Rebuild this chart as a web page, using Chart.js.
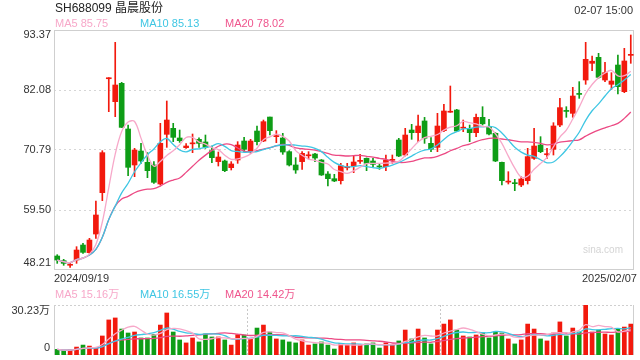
<!DOCTYPE html>
<html><head><meta charset="utf-8">
<script src="https://cdn.jsdelivr.net/npm/chart.js@4.4.1/dist/chart.umd.min.js"></script>
<style>
html,body{margin:0;padding:0;background:#fff;width:640px;height:360px;overflow:hidden;font-family:"Liberation Sans",Arial,"Noto Sans CJK SC",sans-serif;}
.t{position:absolute;white-space:nowrap;font-size:11px;line-height:11px;color:#333;}
#c1{position:absolute;left:0;top:0;}
#c2{position:absolute;left:0;top:290px;}
</style></head>
<body>
<canvas id="c1" width="640" height="290"></canvas>
<canvas id="c2" width="640" height="70"></canvas>
<div class="t" style="left:55px;top:2px;font-size:12px;line-height:12px;color:#222;">SH688099 晶晨股份</div>
<div class="t" style="right:7px;top:5px;">02-07 15:00</div>
<div class="t" id="m5" style="left:55px;top:18px;color:#f7a8c9;"></div>
<div class="t" id="m10" style="left:140px;top:18px;color:#3ec6e3;"></div>
<div class="t" id="m20" style="left:225px;top:18px;color:#ef558d;"></div>
<div class="t" style="left:583px;top:245px;font-size:10px;line-height:10px;color:#d4d4d4;">sina.com</div>
<div class="t" style="left:54px;top:273px;">2024/09/19</div>
<div class="t" style="right:3px;top:273px;">2025/02/07</div>
<div class="t" id="v5" style="left:55px;top:289px;color:#f7a8c9;"></div>
<div class="t" id="v10" style="left:140px;top:289px;color:#3ec6e3;"></div>
<div class="t" id="v20" style="left:225px;top:289px;color:#ef558d;"></div>
<script>
const dates = [
"09-19","09-20","09-23","09-24","09-25","09-26","09-27","09-30",
"10-08","10-09","10-10","10-11","10-14","10-15","10-16","10-17","10-18","10-21","10-22","10-23","10-24","10-25","10-28","10-29","10-30","10-31",
"11-01","11-04","11-05","11-06","11-07","11-08","11-11","11-12","11-13","11-14","11-15","11-18","11-19","11-20","11-21","11-22","11-25","11-26","11-27","11-28","11-29",
"12-02","12-03","12-04","12-05","12-06","12-09","12-10","12-11","12-12","12-13","12-16","12-17","12-18","12-19","12-20","12-23","12-24","12-25","12-26","12-27","12-30","12-31",
"01-02","01-03","01-06","01-07","01-08","01-09","01-10","01-13","01-14","01-15","01-16","01-17","01-20","01-21","01-22","01-23","01-24","01-27",
"02-05","02-06","02-07"];
const opens = [50.84,49.97,49.10,50.09,52.91,51.47,54.98,62.76,84.20,79.88,
83.33,74.74,67.97,70.60,68.47,67.97,64.39,73.74,74.87,73.05,
71.23,71.95,72.80,72.30,70.66,68.60,68.72,67.47,68.91,72.48,
70.48,74.36,72.48,76.99,73.30,73.05,70.48,67.97,68.60,69.70,
70.03,68.91,66.27,65.39,65.02,67.45,67.78,68.65,69.22,68.72,
67.70,67.65,68.85,72.67,69.85,74.55,74.05,76.25,72.04,71.29,
74.43,77.90,78.32,74.90,74.87,74.05,76.94,75.18,73.93,68.47,
64.75,64.60,64.20,65.02,69.22,71.73,69.90,70.92,75.49,78.20,
77.69,81.40,83.96,87.10,88.23,83.96,83.15,86.78,81.77,88.60];
const closes = [50.09,49.46,49.20,51.97,51.53,53.85,58.56,70.29,84.35,83.02,
75.05,67.53,70.79,68.72,66.90,64.71,72.04,76.43,73.17,72.55,
71.54,72.10,72.04,71.29,69.35,69.47,66.90,68.16,71.73,70.92,
72.48,72.36,76.12,74.43,73.50,70.41,67.97,67.03,70.16,69.85,
69.28,66.09,65.39,64.96,67.84,67.60,68.53,68.80,68.28,68.09,
67.60,68.91,68.95,69.66,73.61,74.05,75.30,72.99,70.92,75.30,
78.13,78.05,74.36,75.05,74.05,76.93,75.72,73.80,68.72,65.02,
64.90,64.45,65.33,69.54,71.54,70.48,70.05,75.31,78.76,78.05,
80.95,81.25,87.85,87.50,84.46,85.34,83.77,82.71,87.54,88.75];
const highs = [51.09,50.22,49.46,52.60,53.23,54.17,61.19,70.66,84.40,91.05,
83.52,75.49,71.10,72.04,70.29,68.60,75.81,80.01,75.81,74.55,
72.00,73.80,73.10,73.61,71.54,70.41,68.90,68.60,72.36,73.17,
72.80,75.30,76.43,77.00,74.43,73.93,70.66,69.35,70.48,70.48,
70.16,69.00,66.71,66.21,68.28,68.28,69.66,69.97,69.30,69.22,
68.28,69.85,69.85,72.99,74.87,75.62,77.38,76.93,73.11,77.69,
79.38,82.83,78.44,76.43,75.49,77.56,78.94,76.56,74.05,68.50,
66.71,65.27,65.77,71.10,74.87,73.30,71.10,75.93,80.51,78.94,
82.58,83.65,91.05,88.48,88.98,87.29,85.34,88.67,89.92,92.43];
const lows = [49.46,49.09,48.71,49.46,51.35,51.35,54.17,61.26,78.00,77.06,
75.00,65.96,65.77,68.28,65.58,64.52,64.20,71.29,72.36,72.23,
71.10,70.29,71.29,71.10,68.41,67.78,66.71,67.03,68.28,70.48,
70.16,71.73,72.36,73.61,72.17,69.97,67.78,66.40,67.15,69.10,
68.60,66.00,64.02,64.83,64.39,67.03,66.52,68.28,66.90,67.65,
67.15,66.90,68.28,69.54,69.66,72.80,72.36,72.04,70.48,70.48,
74.24,77.88,74.24,74.24,72.36,73.30,75.49,73.61,68.60,64.20,
64.39,63.14,63.89,64.39,69.03,70.29,69.22,69.85,75.18,76.94,
76.94,80.51,83.15,85.72,84.28,83.65,82.21,81.33,81.58,87.10];
// volume in 万手
const volumes = [3.4,2.6,3.0,4.8,6.0,5.4,4.0,11.5,21.2,22.4,
15.7,13.3,13.9,10.3,10.3,12.5,18.1,25.4,13.9,9.1,
7.3,10.3,7.9,12.7,10.9,10.9,9.1,6.0,12.3,12.1,
9.7,16.3,18.1,13.9,9.7,9.1,7.9,7.3,9.1,6.0,
6.7,7.9,6.0,3.6,7.0,6.0,7.3,6.0,6.7,7.3,
4.2,7.3,6.0,8.5,15.1,9.7,15.7,10.3,6.7,15.1,
18.7,21.2,15.1,11.5,10.9,12.1,13.3,10.3,13.9,13.3,
9.7,6.7,9.1,18.7,15.7,9.7,8.5,13.3,20.0,11.5,
16.3,13.9,30.23,13.9,15.1,12.7,12.1,15.7,16.9,18.7];
const priceTicks = [93.37,82.08,70.79,59.50,48.21];
const volTicks = [30.23,0];
// legend readouts as shown on the chart
const priceMaLegend = [85.75,85.13,78.02];
const volMaLegend = [15.16,16.55,14.42];

const RED='#f2190d', GREEN='#0e9d16', C5='#f7a8c9', C10='#3ec6e3', C20='#ec4a84';
function ma(arr,n){return arr.map((v,i)=>{const s=arr.slice(Math.max(0,i-n+1),i+1);return s.reduce((a,b)=>a+b,0)/s.length;});}
const ma5=ma(closes,5), ma10=ma(closes,10), ma20=ma(closes,20);
const vma5=ma(volumes,5), vma10=ma(volumes,10), vma20=ma(volumes,20);
const cols = closes.map((c,i)=> c>=opens[i]?RED:GREEN);
document.getElementById('m5').textContent='MA5 '+priceMaLegend[0].toFixed(2);
document.getElementById('m10').textContent='MA10 '+priceMaLegend[1].toFixed(2);
document.getElementById('m20').textContent='MA20 '+priceMaLegend[2].toFixed(2);
document.getElementById('v5').textContent='MA5 '+volMaLegend[0].toFixed(2)+'万';
document.getElementById('v10').textContent='MA10 '+volMaLegend[1].toFixed(2)+'万';
document.getElementById('v20').textContent='MA20 '+volMaLegend[2].toFixed(2)+'万';

const FONT='11px "Liberation Sans", Arial, "Noto Sans CJK SC", sans-serif';
const priceFrame={id:'pf',
 beforeDatasetsDraw(ch){const a=ch.chartArea,c=ch.ctx;c.save();c.strokeStyle='#cfcfcf';c.lineWidth=1;c.setLineDash([]);
  c.strokeRect(a.left+0.5,a.top+0.5,a.right-a.left-1,a.bottom-a.top-1);c.restore();},
 afterDraw(ch){const c=ch.ctx,s=ch.scales.y;c.save();c.font=FONT;c.fillStyle='#333';c.textAlign='right';c.textBaseline='middle';
  priceTicks.forEach((v,i)=>{let y=s.getPixelForValue(v);if(i===0)y+=5;else if(i===priceTicks.length-1)y-=7;c.fillText(v.toFixed(2),51,y);});c.restore();}
};
const volFrame={id:'vf',
 beforeDatasetsDraw(ch){const a=ch.chartArea,c=ch.ctx;c.save();c.strokeStyle='#cfcfcf';c.lineWidth=1;
  c.beginPath();c.moveTo(a.left+0.5,a.top);c.lineTo(a.left+0.5,a.bottom);c.moveTo(a.right-0.5,a.top);c.lineTo(a.right-0.5,a.bottom);c.stroke();
  c.setLineDash([2,2]);c.beginPath();c.moveTo(a.left,a.top+0.5);c.lineTo(a.right,a.top+0.5);c.moveTo(a.left,a.bottom-0.5);c.lineTo(a.right,a.bottom-0.5);c.stroke();c.restore();},
 afterDraw(ch){const c=ch.ctx,s=ch.scales.y;c.save();c.font=FONT;c.fillStyle='#333';c.textAlign='right';c.textBaseline='middle';
  volTicks.forEach((v,i)=>{let y=s.getPixelForValue(v);if(i===0)y+=6;else y-=7;c.fillText(v===0?'0':v.toFixed(2)+'万',50,y);});c.restore();}
};
const lineDs=(label,data,color)=>({type:'line',label,data,borderColor:color,borderWidth:1.3,pointRadius:0,tension:0.35,order:0,fill:false});

new Chart(document.getElementById('c1'),{
 type:'bar',
 data:{labels:dates,datasets:[
  lineDs('MA5',ma5,C5),lineDs('MA10',ma10,C10),lineDs('MA20',ma20,C20),
  {label:'body',data:opens.map((o,i)=>[o,closes[i]]),backgroundColor:cols,barThickness:5,minBarLength:1,grouped:false,order:2,borderWidth:0},
  {label:'wick',data:lows.map((l,i)=>[l,highs[i]]),backgroundColor:cols,barThickness:1,grouped:false,order:3,borderWidth:0}
 ]},
 options:{responsive:false,animation:false,devicePixelRatio:1,
  layout:{padding:{left:54,right:6,top:30,bottom:20}},
  plugins:{legend:{display:false},tooltip:{enabled:false}},
  scales:{
   x:{display:false,offset:true},
   y:{min:48.21,max:93.37,display:true,
      afterBuildTicks:s=>{s.ticks=priceTicks.map(v=>({value:v}));},
      ticks:{display:false},border:{display:false,dash:[2,3]},
      grid:{drawTicks:false,lineWidth:1,color:ctx=>(ctx.tick&&ctx.tick.value>48.3&&ctx.tick.value<93.3)?'#d6d6d6':'rgba(0,0,0,0)'}}
  }},
 plugins:[priceFrame]
});

new Chart(document.getElementById('c2'),{
 type:'bar',
 data:{labels:dates,datasets:[
  lineDs('MA5',vma5,C5),lineDs('MA10',vma10,C10),lineDs('MA20',vma20,C20),
  {label:'vol',data:volumes,backgroundColor:cols,barThickness:4,order:2,borderWidth:0}
 ]},
 options:{responsive:false,animation:false,devicePixelRatio:1,
  layout:{padding:{left:54,right:6,top:15,bottom:5}},
  plugins:{legend:{display:false},tooltip:{enabled:false}},
  scales:{
   x:{display:true,offset:true,ticks:{display:false},border:{display:false,dash:[2,2]},
      grid:{offset:true,drawTicks:false,color:ctx=>(ctx.index===30||ctx.index===60)?'#c8c8c8':'rgba(0,0,0,0)'}},
   y:{min:0,max:30.23,display:false}
  }},
 plugins:[volFrame]
});
</script>
</body></html>
